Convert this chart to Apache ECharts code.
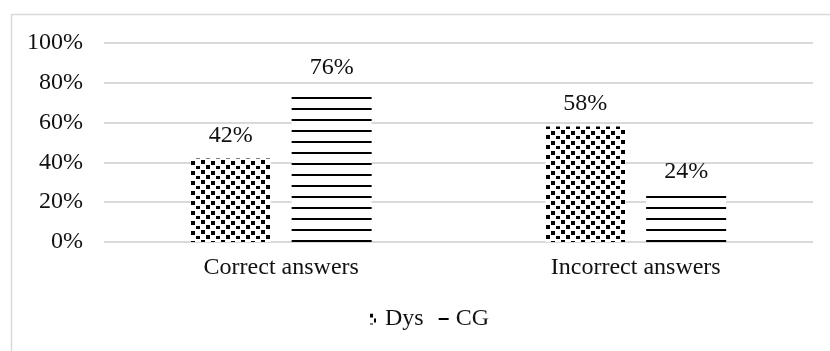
<!DOCTYPE html>
<html>
<head>
<meta charset="utf-8">
<script src="https://cdn.jsdelivr.net/npm/echarts@6/dist/echarts.min.js"></script>
<style>
  html, body { margin: 0; padding: 0; background: #fff; overflow: hidden; }
  #chart { width: 830px; height: 351px; }
</style>
</head>
<body>
<div id="chart"></div>
<script>
// Share of answers per group
const categories = ['Correct answers', 'Incorrect answers'];
const seriesNames = ['Dys', 'CG'];
const dysValues = [0.42, 0.58];
const cgValues = [0.76, 0.24];
const yTicks = [0, 0.2, 0.4, 0.6, 0.8, 1.0];

// Fill pattern: scattered black squares
function dotPattern() {
  const c = document.createElement('canvas');
  c.width = 20; c.height = 10;
  const g = c.getContext('2d');
  g.fillStyle = '#fff';
  g.fillRect(0, 0, c.width, c.height);
  g.fillStyle = '#000';
  g.fillRect(1, 0, 4, 4);
  g.fillRect(11, 1, 4, 4);
  g.fillRect(6, 5, 4, 4);
  g.fillRect(16, 6, 4, 3);
  return c;
}

// Fill pattern: horizontal black stripes
function stripePattern() {
  const c = document.createElement('canvas');
  c.width = 4; c.height = 11;
  const g = c.getContext('2d');
  g.fillStyle = '#fff';
  g.fillRect(0, 0, c.width, c.height);
  g.fillStyle = '#000';
  g.fillRect(0, 9, 4, 3);
  return c;
}

const font = '"Liberation Serif", "Times New Roman", serif';
const textColor = '#111';
const fontSize = 24;

const chart = echarts.init(document.getElementById('chart'), null, { renderer: 'canvas' });

const labelStyle = {
  show: true,
  position: 'top',
  distance: 11,
  fontFamily: font,
  fontSize: fontSize,
  color: textColor,
  formatter: p => Math.round(p.value * 100) + '%'
};

chart.setOption({
  animation: false,
  backgroundColor: '#fff',
  graphic: [{
    type: 'rect',
    left: 9, top: 12,
    shape: { width: 900, height: 400 },
    style: { fill: 'none', stroke: '#d9d9d9', lineWidth: 1.5 },
    silent: true
  }],
  grid: { left: 104, right: 17, top: 43, bottom: 109, containLabel: false },
  legend: {
    bottom: 15,
    left: 365,
    itemWidth: 10,
    itemHeight: 11,
    itemGap: 15,
    textStyle: { fontFamily: font, fontSize: fontSize, color: textColor, padding: [0, 0, 0, 2] },
    data: [
      { name: seriesNames[0], icon: 'path://M0,0H6V11H0Z' },
      { name: seriesNames[1], icon: 'path://M0,10H10V12H0Z', itemStyle: { color: '#000' } }
    ]
  },
  xAxis: {
    type: 'category',
    data: categories,
    axisTick: { show: false },
    axisLine: { show: false },
    axisLabel: { fontFamily: font, fontSize: fontSize, color: textColor, margin: 14 }
  },
  yAxis: {
    type: 'value',
    min: yTicks[0],
    max: yTicks[yTicks.length - 1],
    interval: yTicks[1] - yTicks[0],
    axisLine: { show: false },
    axisTick: { show: false },
    splitLine: { lineStyle: { color: '#d9d9d9', width: 2 } },
    axisLabel: {
      fontFamily: font, fontSize: fontSize, color: textColor, margin: 21,
      formatter: v => Math.round(v * 100) + '%'
    }
  },
  series: [
    {
      name: seriesNames[0],
      type: 'bar',
      data: dysValues,
      barWidth: 80,
      barGap: '26%',
      itemStyle: { color: { image: dotPattern(), repeat: 'repeat' } },
      label: labelStyle
    },
    {
      name: seriesNames[1],
      type: 'bar',
      data: cgValues,
      barWidth: 80,
      barGap: '26%',
      itemStyle: { color: { image: stripePattern(), repeat: 'repeat' } },
      label: labelStyle
    }
  ]
});
</script>
</body>
</html>
